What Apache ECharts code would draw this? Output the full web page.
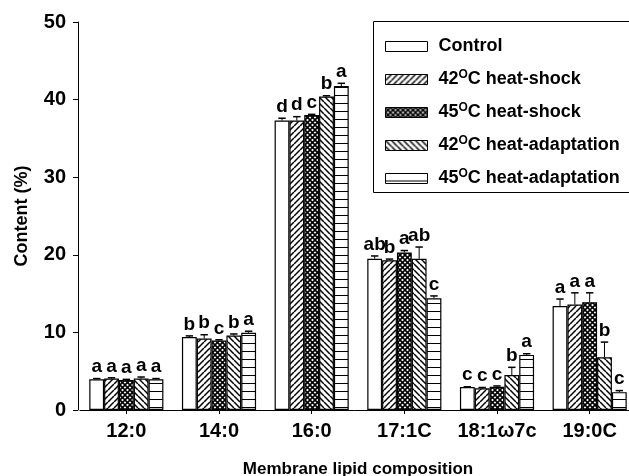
<!DOCTYPE html>
<html><head><meta charset="utf-8">
<script src="https://cdn.jsdelivr.net/npm/echarts@6/dist/echarts.min.js"></script>
<style>html,body{margin:0;padding:0;background:#fff}#c{width:629px;height:476px}</style>
</head><body><div id="c"></div>
<script>
const categories = ['12:0','14:0','16:0','17:1C','18:1\u03c97c','19:0C'];
const seriesNames = ['Control','42{sup|O}C heat-shock','45{sup|O}C heat-shock','42{sup|O}C heat-adaptation','45{sup|O}C heat-adaptation'];
const control    = [3.95, 9.4, 37.3, 19.5, 2.95, 13.4];
const hs42       = [4.05, 9.2, 37.3, 19.3, 2.8, 13.6];
const hs45       = [3.85, 8.95, 38.0, 20.3, 3.0, 13.9];
const ha42       = [4.05, 9.6, 40.4, 19.5, 4.5, 6.8];
const ha45       = [3.95, 9.95, 41.75, 14.4, 7.1, 2.3];
const controlErr = [0.1, 0.15, 0.3, 0.35, 0.05, 0.9];
const hs42Err    = [0.1, 0.5, 0.5, 0.15, 0.1, 1.5];
const hs45Err    = [0.1, 0.1, 0.1, 0.25, 0.1, 1.2];
const ha42Err    = [0.2, 0.2, 0.1, 1.5, 1.0, 1.95];
const ha45Err    = [0.1, 0.2, 0.35, 0.3, 0.15, 0.2];
const controlLet = ['a','b','d','ab','c','a'];
const hs42Let    = ['a','b','d','b','c','a'];
const hs45Let    = ['a','c','c','a','c','a'];
const ha42Let    = ['a','b','b','ab','b','b'];
const ha45Let    = ['a','a','a','c','a','c'];

const values = [control, hs42, hs45, ha42, ha45];
const errs = [controlErr, hs42Err, hs45Err, ha42Err, ha45Err];
const letters = [controlLet, hs42Let, hs45Let, ha42Let, ha45Let];

function makePattern(kind){
  if (kind==='none') return '#fff';
  const c = document.createElement('canvas');
  const s = kind==='h' ? 8 : (kind==='x' ? 5 : 6);
  c.width = s; c.height = s;
  const g = c.getContext('2d');
  g.fillStyle = '#fff'; g.fillRect(0,0,s,s);
  g.strokeStyle = '#000';
  if (kind==='f' || kind==='b' || kind==='x') {
    g.lineWidth = kind==='x' ? 1.6 : 1.5;
    const dirs = kind==='x' ? ['f','b'] : [kind];
    dirs.forEach(d=>{
      for (let k=-1;k<=1;k++){
        g.beginPath();
        if (d==='f'){ g.moveTo(k*s, s); g.lineTo(k*s+s, 0); }
        else { g.moveTo(k*s, 0); g.lineTo(k*s+s, s); }
        g.stroke();
      }
    });
  } else if (kind==='h') {
    g.lineWidth = 1;
    g.beginPath(); g.moveTo(0, 7.5); g.lineTo(s, 7.5); g.stroke();
  }
  return {image: c, repeat: 'repeat'};
}
const fills = [makePattern('none'), makePattern('f'), makePattern('x'), makePattern('b'), makePattern('h')];

const FONT = 'Liberation Sans, Arial, Helvetica, sans-serif';
const BW = 0.16;

const series = [];
values.forEach((vals, s) => {
  series.push({
    type: 'bar', name: seriesNames[s], data: vals,
    barWidth: (BW*100)+'%', barGap: '0%',
    itemStyle: {color: fills[s], borderColor: '#000', borderWidth: 1.2},
    z: 2
  });
});
values.forEach((vals, s) => {
  series.push({
    type: 'custom', name: seriesNames[s] + '_err', z: 5,
    data: vals.map((v,i)=>[i, v, errs[s][i]]),
    encode: {x: 0, y: 1},
    renderItem: function(params, api){
      const ci = api.value(0), v = api.value(1), e = api.value(2);
      const band = api.size([1,0])[0];
      const base = api.coord([ci, v]);
      const x = base[0] + (s-2)*band*BW;
      const top = api.coord([ci, v+e])[1];
      const cap = band*BW*0.25;
      return {type: 'group', children: [
        {type:'line', shape:{x1:x, y1:base[1], x2:x, y2:top}, style:{stroke:'#000', lineWidth:1}},
        {type:'line', shape:{x1:x-cap, y1:top, x2:x+cap, y2:top}, style:{stroke:'#000', lineWidth:1.5}},
        {type:'text', style:{text: letters[s][params.dataIndex], x:x, y: top-2, textAlign:'center', textVerticalAlign:'bottom',
          font: 'bold 19px ' + FONT, fill:'#000'}}
      ]};
    }
  });
});

const chart = echarts.init(document.getElementById('c'), null, {renderer:'canvas'});
chart.setOption({
  animation: false,
  backgroundColor: '#fff',
  grid: {left: 80, right: -7, top: 22, bottom: 66, containLabel: false, outerBoundsMode: 'none'},
  xAxis: {
    type: 'category', data: categories,
    axisLine: {show: true, lineStyle: {color: '#000', width: 1}},
    axisTick: {show: true, alignWithLabel: true, length: 4, lineStyle: {color:'#000'}},
    axisLabel: {interval: 0, color: '#000', fontWeight: 'bold', fontSize: 20, fontFamily: FONT, margin: 11},
    name: 'Membrane lipid composition', nameLocation: 'middle', nameGap: 51,
    nameTextStyle: {color:'#000', fontWeight:'bold', fontSize: 17, fontFamily: FONT}
  },
  yAxis: {
    type: 'value', min: 0, max: 50, interval: 10, offset: 2,
    axisLine: {show: true, lineStyle: {color: '#000', width: 1}},
    axisTick: {show: true, length: 5, lineStyle: {color:'#000'}},
    splitLine: {show: false},
    axisLabel: {color: '#000', fontWeight: 'bold', fontSize: 20, fontFamily: FONT, margin: 12},
    name: 'Content (%)', nameLocation: 'middle', nameGap: 47, nameRotate: 90,
    nameTextStyle: {color:'#000', fontWeight:'bold', fontSize: 18, fontFamily: FONT}
  },
  legend: {
    orient: 'vertical', left: 380, top: 31,
    data: seriesNames.map(n => ({name: n, icon: 'rect'})),
    itemWidth: 42, itemHeight: 10, itemGap: 12,
    formatter: n => n,
    textStyle: {color:'#000', fontWeight:'bold', fontSize: 18, fontFamily: FONT, lineHeight: 21, padding: [0,0,0,6],
      rich: {sup: {fontSize: 12, fontWeight:'bold', fontFamily: FONT, verticalAlign:'top', lineHeight: 14, padding:[0,0,6,0]}}},
    itemStyle: {borderColor:'#000', borderWidth: 1}
  },
  graphic: [{type:'rect', shape:{x:373.5, y:21.5, width:270, height:171}, style:{fill:'none', stroke:'#000', lineWidth:1}, z: 10}],
  series: series
});
</script></body></html>
